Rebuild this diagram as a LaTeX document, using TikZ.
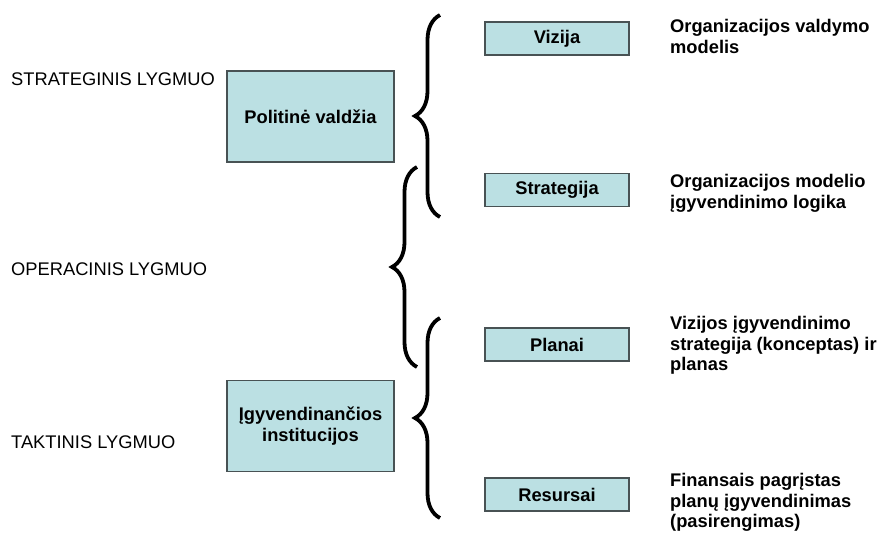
\documentclass[tikz,border=0pt]{standalone}
\usepackage{fontspec}
\setmainfont{Liberation Sans}
\usetikzlibrary{decorations.pathreplacing}
\definecolor{boxfill}{RGB}{187,224,227}
\definecolor{boxline}{RGB}{72,82,84}
\begin{document}
\begin{tikzpicture}[x=1pt, y=-1pt,
		level/.style={anchor=west, inner sep=0pt, font=\fontsize{18.3}{20.5}\selectfont},
		desc/.style={anchor=north west, inner sep=0pt, align=left, font=\bfseries\fontsize{18.3}{20.5}\selectfont},
		bigbox/.style={draw=boxline, line width=1.2pt, fill=boxfill, minimum width=167pt, minimum height=91pt, align=center, font=\bfseries\fontsize{18.3}{20.5}\selectfont},
		smallbox/.style={draw=boxline, line width=1.2pt, fill=boxfill, minimum width=144pt, minimum height=33pt, font=\bfseries\fontsize{18.3}{20.5}\selectfont},
		curly/.style={line width=3.8pt, decorate, decoration={brace, amplitude=25pt}}]
		\useasboundingbox (0,0) rectangle (881,534);
		% levels
		\node[level] (lvlstrat) at (11,79.5) {STRATEGINIS LYGMUO};
		\node[level] (lvloper) at (11,269.5) {OPERACINIS LYGMUO};
		\node[level] (lvltakt) at (11,442) {TAKTINIS LYGMUO};
		% left boxes
		\node[bigbox] (politine) at (310.5,116.5) {Politinė valdžia};
		\node[bigbox] (igyv) at (310.5,426) {Įgyvendinančios\\institucijos};
		% right boxes
		\node[smallbox] (vizija) at (557,38.5) {Vizija};
		\node[smallbox] (strategija) at (557,190) {Strategija};
		\node[smallbox] (planai) at (557,344.5) {Planai};
		\node[smallbox] (resursai) at (557,494.5) {Resursai};
		% descriptions
		\node[desc] (dscvizija) at (670,19.5) {Organizacijos valdymo\\modelis};
		\node[desc] (dscstrategija) at (670,174.5) {Organizacijos modelio\\įgyvendinimo logika};
		\node[desc] (dscplanai) at (670,316.5) {Vizijos įgyvendinimo\\strategija (konceptas) ir\\planas};
		\node[desc] (dscresursai) at (670,473.5) {Finansais pagrįstas\\planų įgyvendinimas\\(pasirengimas)};
		% braces
		\coordinate (topbrtop) at (440,15);
		\coordinate (topbrbot) at (440,217);
		\coordinate (midbrtop) at (417,167);
		\coordinate (midbrbot) at (417,367);
		\coordinate (lowbrtop) at (440,318);
		\coordinate (lowbrbot) at (440,518);
		\draw[curly] (topbrbot) -- (topbrtop);
		\draw[curly] (midbrbot) -- (midbrtop);
		\draw[curly] (lowbrbot) -- (lowbrtop);
	\end{tikzpicture}
\end{document}
